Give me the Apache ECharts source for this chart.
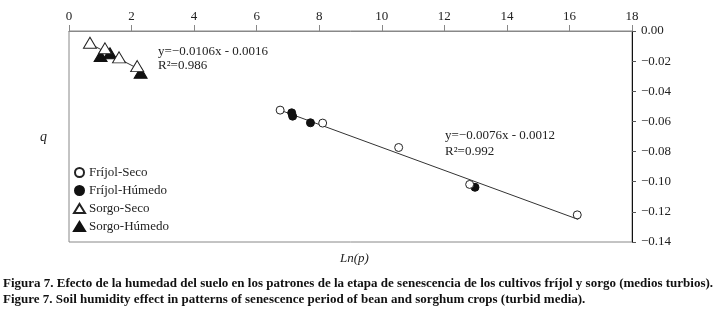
<!DOCTYPE html>
<html>
<head>
<meta charset="utf-8">
<script src="https://cdn.jsdelivr.net/npm/echarts@6/dist/echarts.min.js"></script>
<style>
  html, body { margin: 0; padding: 0; background: #fff; }
  #chart { width: 720px; height: 313px; }
</style>
</head>
<body>
<div id="chart"></div>
<script>
// Ln(p) vs q readings
const frijolSeco = [[6.75, -0.0525], [8.11, -0.0611], [10.54, -0.0773], [12.81, -0.1018], [16.25, -0.1220]]
const frijolHumedo = [[7.12, -0.0543], [7.15, -0.0565], [7.72, -0.0609], [12.98, -0.1037]]
const sorgoSeco = [[0.67, -0.0078], [1.15, -0.0115], [1.60, -0.0175], [2.18, -0.0233]]
const sorgoHumedo = [[1.01, -0.0166], [1.31, -0.0148], [2.29, -0.0277]]

// fitted lines as drawn in the figure
const fitSorgo = [[0.67, -0.0085], [2.30, -0.0260]]
const fitFrijol = [[6.72, -0.0523], [16.28, -0.1250]]

const xTicks = [0, 2, 4, 6, 8, 10, 12, 14, 16, 18]
const yTicks = [0, -0.02, -0.04, -0.06, -0.08, -0.10, -0.12, -0.14]

const legendNames = ['Fríjol-Seco', 'Fríjol-Húmedo', 'Sorgo-Seco', 'Sorgo-Húmedo']
const eqSorgo = ['y=\u22120.0106x - 0.0016', 'R\u00b2=0.986']
const eqFrijol = ['y=\u22120.0076x - 0.0012', 'R\u00b2=0.992']
const captions = [
  'Figura 7. Efecto de la humedad del suelo en los patrones de la etapa de senescencia de los cultivos fríjol y sorgo (medios turbios).',
  'Figure 7. Soil humidity effect in patterns of senescence period of bean and sorghum crops (turbid media).'
]

const serif = '"Liberation Serif", "DejaVu Serif", serif'

var chart = echarts.init(document.getElementById('chart'))

const openStyle = { color: '#fff', borderColor: '#222', borderWidth: 1, opacity: 1 }
const fillStyle = { color: '#111', borderColor: '#111', borderWidth: 1, opacity: 1 }

chart.setOption({
  animation: false,
  grid: {
    left: 69, right: 88, top: 31, bottom: 71,
    show: true, borderColor: '#888', borderWidth: 1
  },
  xAxis: {
    type: 'value', position: 'top',
    min: xTicks[0], max: xTicks[xTicks.length - 1], interval: 2,
    axisLine: { onZero: false, lineStyle: { color: '#888' } },
    axisTick: { inside: false, length: 6, lineStyle: { color: '#888' } },
    axisLabel: { color: '#222', fontFamily: serif, fontSize: 13, margin: 8 },
    splitLine: { show: false }
  },
  yAxis: {
    type: 'value', position: 'right',
    min: yTicks[yTicks.length - 1], max: yTicks[0], interval: 0.02,
    axisLine: { onZero: false, lineStyle: { color: '#111' } },
    axisTick: { length: 4, lineStyle: { color: '#555' } },
    axisLabel: {
      color: '#222', fontFamily: serif, fontSize: 13, margin: 9,
      formatter: v => (v < 0 ? '\u2212' : '') + Math.abs(v).toFixed(2)
    },
    splitLine: { show: false }
  },
  legend: {
    orient: 'vertical', left: 73, top: 166, padding: 0,
    itemWidth: 11, itemHeight: 9, itemGap: 5,
    textStyle: { fontFamily: serif, fontSize: 13, color: '#222', lineHeight: 13, padding: [0, 0, 0, -1] },
    data: [
      { name: legendNames[0], icon: 'circle' },
      { name: legendNames[1], icon: 'circle' },
      { name: legendNames[2], icon: 'triangle' },
      { name: legendNames[3], icon: 'triangle' }
    ]
  },
  series: [
    {
      type: 'line', data: fitSorgo, symbol: 'none', silent: true,
      lineStyle: { color: '#333', width: 1 }, z: 1
    },
    {
      type: 'line', data: fitFrijol, symbol: 'none', silent: true,
      lineStyle: { color: '#333', width: 1 }, z: 1
    },
    {
      name: legendNames[0], type: 'scatter', data: frijolSeco,
      symbol: 'circle', symbolSize: 8, itemStyle: openStyle, z: 3
    },
    {
      name: legendNames[1], type: 'scatter', data: frijolHumedo,
      symbol: 'circle', symbolSize: 8, itemStyle: fillStyle, z: 2
    },
    {
      name: legendNames[2], type: 'scatter', data: sorgoSeco,
      symbol: 'triangle', symbolSize: [13, 11], itemStyle: openStyle, z: 3
    },
    {
      name: legendNames[3], type: 'scatter', data: sorgoHumedo,
      symbol: 'triangle', symbolSize: [13, 11], itemStyle: fillStyle, z: 2
    }
  ],
  graphic: [
    { type: 'text', left: 40, top: 130, style: { text: 'q', font: 'italic 14px ' + serif, fill: '#222' } },
    { type: 'text', left: 340, top: 252, style: { text: 'Ln(p)', font: 'italic 13px ' + serif, fill: '#222' } },
    { type: 'text', left: 158, top: 45, style: { text: eqSorgo.join('\n'), font: '13px ' + serif, fill: '#222', lineHeight: 14 } },
    { type: 'text', left: 445, top: 128, style: { text: eqFrijol.join('\n'), font: '13px ' + serif, fill: '#222', lineHeight: 16 } },
    { type: 'text', left: 3, top: 277, style: { text: captions[0], font: 'bold 13px ' + serif, fill: '#111' } },
    { type: 'text', left: 3, top: 293, style: { text: captions[1], font: 'bold 13px ' + serif, fill: '#111' } }
  ]
})
</script>
</body>
</html>
